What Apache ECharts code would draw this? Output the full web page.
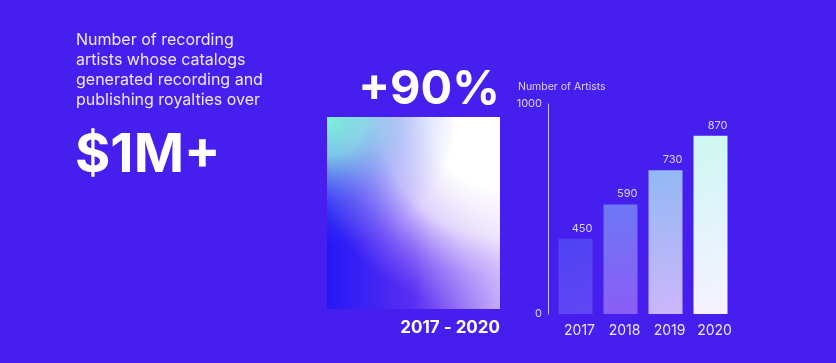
<!DOCTYPE html>
<html>
<head>
<meta charset="utf-8">
<script src="https://cdn.jsdelivr.net/npm/echarts@6/dist/echarts.min.js"></script>
<style>
html,body{margin:0;padding:0;background:#461EEE;}
#chart{width:836px;height:363px;}
</style>
</head>
<body>
<div id="chart"></div>
<script>
const categories = ['2017', '2018', '2019', '2020'];
const artists = [450, 590, 730, 870];
const yTickValues = [143, 1000];
const yTickLabels = ['0', '1000'];
const headlineLines = ['Number of recording', 'artists whose catalogs', 'generated recording and', 'publishing royalties over'];
const bigValue = '$1M+';
const growthText = '+90%';
const periodText = '2017 - 2020';
const axisTitle = 'Number of Artists';

const topColors = ['#4E43F3', '#6C78F5', '#92B8F5', '#CDF7F2'];
const botColors = ['#6246F4', '#8C5CF6', '#CDB6FA', '#F8F2FF'];

const chart = echarts.init(document.getElementById('chart'));
const FONT = 'Inter, "Noto Sans", sans-serif';

chart.setOption({
  backgroundColor: '#461EEE',
  animation: false,
  grid: { left: 553, right: 103, top: 104, bottom: 49 },
  xAxis: {
    type: 'category',
    data: categories,
    axisLine: { show: false },
    axisTick: { show: false },
    axisLabel: { interval: 0, color: '#ECE8FF', fontSize: 14, fontFamily: FONT, margin: 10, padding: [0, 0, 0, 8] }
  },
  yAxis: {
    type: 'value',
    min: yTickValues[0],
    max: yTickValues[1],
    offset: 5,
    splitLine: { show: false },
    axisLine: { show: true, lineStyle: { color: '#C9BEFF', width: 1 } },
    axisTick: { show: false },
    axisLabel: {
      customValues: yTickValues,
      color: '#DCD5FF', fontSize: 11, fontFamily: FONT, margin: 6,
      formatter: function (v) { const i = yTickValues.indexOf(v); return i >= 0 ? yTickLabels[i] : ''; }
    }
  },
  series: [{
    type: 'bar',
    barWidth: 34,
    data: artists.map(function (v, i) {
      return {
        value: v,
        itemStyle: {
          color: new echarts.graphic.LinearGradient(0, 0, 1, 1, [
            { offset: 0, color: topColors[i] },
            { offset: 1, color: botColors[i] }
          ])
        }
      };
    }),
    label: {
      show: true,
      position: ['100%', 0],
      align: 'right',
      verticalAlign: 'bottom',
      offset: [0, -5],
      color: '#DCD5FF',
      fontSize: 11,
      fontFamily: FONT
    }
  }],
  graphic: [
    {
      type: 'text', left: 76, top: 30,
      style: {
        text: headlineLines.join('\n'), fill: '#EDE9FF',
        font: '400 16px ' + FONT, lineHeight: 20
      }
    },
    {
      type: 'text', left: 75, top: 129,
      style: { text: bigValue, fill: '#FFFFFF', font: 'bold 54px ' + FONT }
    },
    {
      type: 'text', right: 336, top: 66,
      style: { text: growthText, fill: '#FFFFFF', font: 'bold 47px ' + FONT }
    },
    {
      type: 'text', right: 336, top: 319,
      style: { text: periodText, fill: '#FFFFFF', font: 'bold 17px ' + FONT }
    },
    {
      type: 'text', left: 518, top: 81,
      style: { text: axisTitle, fill: '#DCD5FF', font: '10.5px ' + FONT }
    },
    {
      type: 'group', left: 327, top: 117,
      children: [
        {
          type: 'rect', shape: { x: 0, y: 0, width: 173, height: 192 },
          style: {
            fill: new echarts.graphic.LinearGradient(0, 0, 1, 0, [
              { offset: 0, color: '#2418F6' },
              { offset: 0.5, color: '#5A2EF1' },
              { offset: 1, color: '#C4AAF9' }
            ])
          }
        },
        {
          type: 'rect', shape: { x: 0, y: 0, width: 173, height: 192 },
          style: {
            fill: new echarts.graphic.RadialGradient(1, 0, 1.15, [
              { offset: 0, color: 'rgba(255,255,255,1)' },
              { offset: 0.35, color: 'rgba(255,255,255,1)' },
              { offset: 0.6, color: 'rgba(250,245,255,0.8)' },
              { offset: 0.82, color: 'rgba(225,205,255,0.3)' },
              { offset: 1, color: 'rgba(200,180,255,0)' }
            ])
          }
        },
        {
          type: 'rect', shape: { x: 0, y: 0, width: 173, height: 192 },
          style: {
            fill: new echarts.graphic.RadialGradient(0, 0, 0.75, [
              { offset: 0, color: 'rgba(125,245,215,1)' },
              { offset: 0.3, color: 'rgba(135,228,228,0.8)' },
              { offset: 0.65, color: 'rgba(100,140,240,0.3)' },
              { offset: 1, color: 'rgba(80,100,240,0)' }
            ])
          }
        }
      ]
    }
  ]
});
</script>
</body>
</html>
